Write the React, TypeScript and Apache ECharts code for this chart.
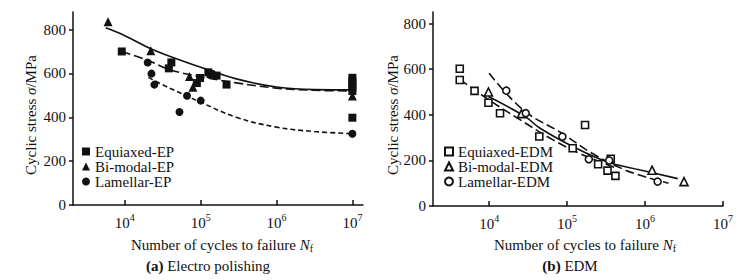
import React, { useEffect, useRef } from "react";
import * as echarts from "echarts";

const FONT = "Liberation Serif";
const INK = "#111";

const xTickExps = [4, 5, 6, 7];
const yTicks = [0, 200, 400, 600, 800];

// (a) Electro polishing — measured points (N cycles, stress MPa)
const epEquiaxedN = [9100, 38000, 41000, 89000, 98000, 126000, 135000, 162000, 219000, 1e7, 1e7, 1e7, 1e7, 1e7, 1e7];
const epEquiaxedS = [700, 623, 650, 556, 579, 605, 597, 590, 549, 580, 565, 550, 535, 520, 398];
const epBimodalN = [6000, 22000, 71000, 79000, 1e7];
const epBimodalS = [835, 703, 586, 537, 497];
const epLamellarN = [20000, 22400, 24500, 52500, 66000, 100000, 1e7];
const epLamellarS = [650, 599, 549, 424, 498, 476, 325];

// (a) fitted curves
const epBimodalFitN = [5600, 10000, 22000, 31600, 100000, 295000, 1000000, 3160000, 10000000];
const epBimodalFitS = [808, 772, 712, 690, 628, 575, 538, 526, 525];
const epEquiaxedFitN = [9100, 20000, 39000, 100000, 295000, 1000000, 3160000, 10000000];
const epEquiaxedFitS = [700, 660, 617, 585, 557, 533, 523, 520];
const epLamellarFitN = [20400, 31600, 65000, 100000, 295000, 1000000, 3160000, 10000000];
const epLamellarFitS = [582, 548, 498, 468, 400, 355, 335, 325];

// (b) EDM — measured points
const edmEquiaxedN = [4200, 4200, 6500, 9800, 13800, 44000, 118000, 170000, 250000, 330000, 363000, 417000];
const edmEquiaxedS = [602, 553, 505, 453, 407, 305, 253, 355, 183, 155, 207, 132];
const edmBimodalN = [9800, 26000, 1230000, 3160000];
const edmBimodalS = [500, 405, 157, 107];
const edmLamellarN = [16600, 29500, 87000, 190000, 347000, 1450000];
const edmLamellarS = [506, 407, 304, 205, 200, 107];

// (b) fitted curves
const edmBimodalFitN = [9800, 29000, 45000, 120000, 324000, 870000, 2630000];
const edmBimodalFitS = [480, 392, 341, 260, 194, 158, 120];
const edmEquiaxedFitN = [4200, 10000, 24500, 66000, 158000, 420000];
const edmEquiaxedFitS = [555, 465, 380, 290, 225, 168];
const edmLamellarFitN = [10000, 27500, 87000, 200000, 500000, 1000000, 2000000];
const edmLamellarFitS = [582, 421, 318, 235, 165, 128, 100];

const pts = (n: number[], s: number[]) => n.map((v, i) => [Math.log10(v), s[i]]);

export default function App() {
  const ref = useRef<HTMLDivElement>(null);
  useEffect(() => {
    if (!ref.current) return;
    const chart = echarts.init(ref.current, undefined, { renderer: "svg" });

    const xAxisCommon = (gridIndex: number, min: number, max: number) => ({
      type: "value",
      gridIndex,
      min,
      max,
      splitLine: { show: false },
      axisLine: { show: true, onZero: false, lineStyle: { color: INK, width: 1.5 } },
      axisTick: { show: true, inside: true, length: 5, customValues: xTickExps, lineStyle: { color: INK, width: 1.5 } },
      axisLabel: {
        customValues: xTickExps,
        margin: 7,
        fontFamily: FONT,
        formatter: (v: number) => `{b|10}{s|${Math.round(v)}}`,
        rich: {
          b: { fontFamily: FONT, fontSize: 15, color: INK, lineHeight: 18, verticalAlign: "bottom" },
          s: { fontFamily: FONT, fontSize: 10, color: INK, lineHeight: 10, verticalAlign: "top" },
        },
      },
    });
    const yAxisCommon = (gridIndex: number, max: number) => ({
      type: "value",
      gridIndex,
      min: 0,
      max,
      splitLine: { show: false },
      axisLine: { show: true, onZero: false, lineStyle: { color: INK, width: 1.5 } },
      axisTick: { show: true, inside: false, length: 4, customValues: yTicks, lineStyle: { color: INK, width: 1.5 } },
      axisLabel: {
        customValues: yTicks,
        margin: 7,
        formatter: (v: number) => `{n|${v}}`,
        rich: { n: { fontFamily: FONT, fontSize: 15, color: INK } },
      },
    });

    const scatter = (name: string, xi: number, data: number[][], symbol: string, size: number, hollow: boolean) => ({
      name,
      type: "scatter",
      xAxisIndex: xi,
      yAxisIndex: xi,
      data,
      symbol,
      symbolSize: size,
      z: 3,
      itemStyle: hollow
        ? { color: "#fff", borderColor: INK, borderWidth: 1.6, opacity: 1 }
        : { color: INK, borderWidth: 0, opacity: 1 },
    });
    const fit = (xi: number, data: number[][], dash: any) => ({
      type: "line",
      xAxisIndex: xi,
      yAxisIndex: xi,
      data,
      smooth: 0.4,
      showSymbol: false,
      symbol: "none",
      z: 2,
      lineStyle: { color: INK, width: 1.6, type: dash },
    });

    const legendCommon = {
      orient: "vertical",
      padding: 0,
      itemWidth: 8,
      itemHeight: 8,
      itemGap: 0,
      formatter: (name: string) => `{n|${name}}`,
      textStyle: {
        fontFamily: FONT,
        fontSize: 15,
        color: INK,
        rich: { n: { fontFamily: FONT, fontSize: 15, color: INK, lineHeight: 15.5 } },
      },
    };

    const richName = {
      t: { fontFamily: FONT, fontSize: 15, fill: INK },
      i: { fontFamily: FONT, fontSize: 15, fontStyle: "italic", fill: INK },
      sub: { fontFamily: FONT, fontSize: 10, fill: INK, verticalAlign: "bottom", padding: [6, 0, 0, 0] },
      bd: { fontFamily: FONT, fontSize: 15, fontWeight: "bold", fill: INK },
    };

    const text = (x: number, y: number, t: string, rotation = 0) => ({
      type: "text",
      x,
      y,
      rotation,
      style: {
        text: t,
        rich: richName,
        font: `15px ${FONT}`,
        fill: INK,
        align: "center",
        verticalAlign: "middle",
      },
    });

    chart.setOption({
      animation: false,
      backgroundColor: "#fff",
      textStyle: { fontFamily: FONT },
      grid: [
        { left: 73, top: 12, width: 290, height: 193 },
        { left: 433, top: 12, width: 290, height: 194 },
      ],
      xAxis: [xAxisCommon(0, 3.316, 7.14), xAxisCommon(1, 3.28, 7)],
      yAxis: [yAxisCommon(0, 880), yAxisCommon(1, 851)],
      legend: [
        { ...legendCommon, left: 82, top: 144, data: ["Equiaxed-EP", "Bi-modal-EP", "Lamellar-EP"] },
        { ...legendCommon, left: 444, top: 144, data: ["Equiaxed-EDM", "Bi-modal-EDM", "Lamellar-EDM"] },
      ],
      series: [
        fit(0, pts(epBimodalFitN, epBimodalFitS), "solid"),
        fit(0, pts(epEquiaxedFitN, epEquiaxedFitS), [9, 4]),
        fit(0, pts(epLamellarFitN, epLamellarFitS), [5, 3]),
        scatter("Equiaxed-EP", 0, pts(epEquiaxedN, epEquiaxedS), "rect", 8, false),
        scatter("Bi-modal-EP", 0, pts(epBimodalN, epBimodalS), "triangle", 9, false),
        scatter("Lamellar-EP", 0, pts(epLamellarN, epLamellarS), "circle", 8, false),
        fit(1, pts(edmBimodalFitN, edmBimodalFitS), "solid"),
        fit(1, pts(edmEquiaxedFitN, edmEquiaxedFitS), [9, 4]),
        fit(1, pts(edmLamellarFitN, edmLamellarFitS), [9, 4]),
        scatter("Equiaxed-EDM", 1, pts(edmEquiaxedN, edmEquiaxedS), "rect", 7, true),
        scatter("Bi-modal-EDM", 1, pts(edmBimodalN, edmBimodalS), "triangle", 8, true),
        scatter("Lamellar-EDM", 1, pts(edmLamellarN, edmLamellarS), "circle", 7, true),
      ],
      graphic: [
        text(31, 115, "{t|Cyclic stress }{i|σ}{t|/MPa}", Math.PI / 2),
        text(393, 115, "{t|Cyclic stress }{i|σ}{t|/MPa}", Math.PI / 2),
        text(222, 245, "{t|Number of cycles to failure }{i|N}{sub|f}"),
        text(585, 245, "{t|Number of cycles to failure }{i|N}{sub|f}"),
        text(208, 266, "{bd|(a)}{t| Electro polishing}"),
        text(570, 266, "{bd|(b)}{t| EDM}"),
      ],
    });
    return () => chart.dispose();
  }, []);
  return (
    <div
      ref={ref}
      style={{ position: "fixed", left: 0, top: 0, width: 753, height: 280, background: "#fff" }}
    />
  );
}
